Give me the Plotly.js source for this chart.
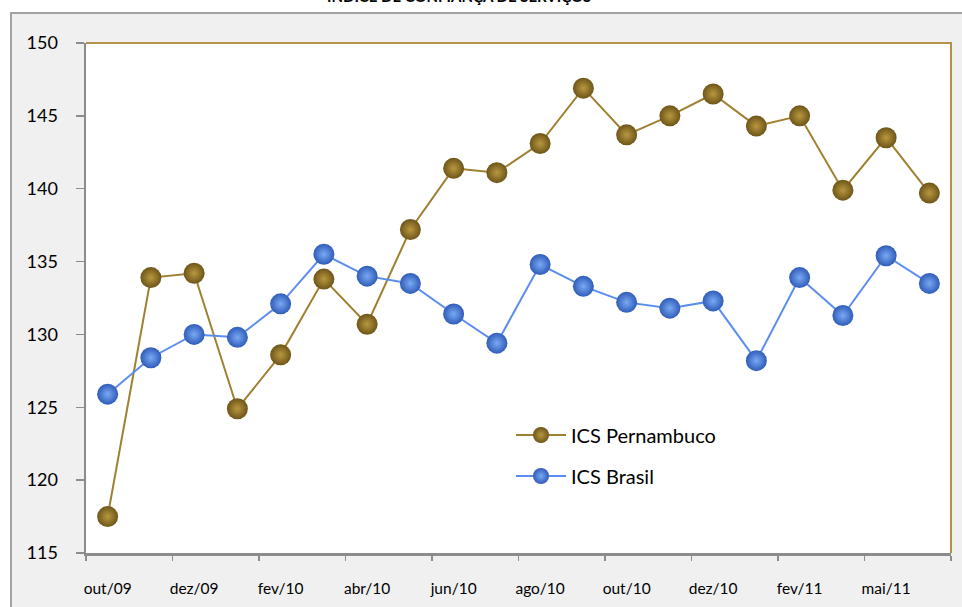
<!DOCTYPE html>
<html>
<head>
<meta charset="utf-8">
<script src="https://cdn.plot.ly/plotly-3.0.1.min.js"></script>
<style>
html,body{margin:0;padding:0;background:#fff;}
#chart{width:962px;height:607px;}
</style>
</head>
<body>
<div id="chart"></div>
<script>
// Data
var months = ["out/09","nov/09","dez/09","jan/10","fev/10","mar/10","abr/10","mai/10","jun/10","jul/10",
              "ago/10","set/10","out/10","nov/10","dez/10","jan/11","fev/11","mar/11","mai/11","jun/11"];
var icsPernambuco = [117.5,133.9,134.2,124.9,128.6,133.8,130.7,137.2,141.4,141.1,
                     143.1,146.9,143.7,145.0,146.5,144.3,145.0,139.9,143.5,139.7];
var icsBrasil = [125.9,128.4,130.0,129.8,132.1,135.5,134.0,133.5,131.4,129.4,
                 134.8,133.3,132.2,131.8,132.3,128.2,133.9,131.3,135.4,133.5];
var seriesNames = ["ICS Pernambuco","ICS Brasil"];
var chartTitle = "ÍNDICE DE CONFIANÇA DE SERVIÇOS";

// plot area geometry (pixels)
var W = 962, H = 607, L = 86, T = 43, R = 11, B = 54;
var pw = W - L - R, ph = H - T - B;
function px2x(p){ return (p - L) / pw; }
function py2y(p){ return (H - B - p) / ph; }

var FONT = "Lato, 'Open Sans', sans-serif";

var traces = [
  {
    x: months, y: icsPernambuco, name: seriesNames[0], type: "scatter", mode: "lines+markers",
    line: {color: "#9e802f", width: 2},
    marker: {size: 21, color: "#6e5519", line: {width: 0},
             gradient: {type: "radial", color: "#b8983f"}},
    legend: "legend"
  },
  {
    x: months, y: icsBrasil, name: seriesNames[1], type: "scatter", mode: "lines+markers",
    line: {color: "#5b8def", width: 2},
    marker: {size: 21, color: "#2f5cb8", line: {width: 0},
             gradient: {type: "radial", color: "#7aa9f4"}},
    legend: "legend2"
  }
];

var layout = {
  width: W, height: H,
  margin: {l: L, r: R, t: T, b: B, pad: 0},
  paper_bgcolor: "#ffffff",
  plot_bgcolor: "#ffffff",
  font: {family: FONT, color: "#000"},
  showlegend: true,
  xaxis: {
    type: "category",
    range: [-0.5, months.length - 0.5],
    dtick: 2, tick0: 0,
    tickson: "boundaries",
    tickangle: 0,
    ticks: "outside", ticklen: 5, tickwidth: 1.5, tickcolor: "#8c8c8c",
    showline: true, linecolor: "#8c8c8c", linewidth: 2.5,
    showgrid: false, zeroline: false,
    tickfont: {family: FONT, size: 15.5, color: "#000"},
    ticklabelstandoff: 20,
    fixedrange: true
  },
  yaxis: {
    range: [115, 150],
    dtick: 5, tick0: 115,
    ticks: "outside", ticklen: 8, tickwidth: 1.5, tickcolor: "#8c8c8c",
    showline: true, linecolor: "#8c8c8c", linewidth: 2.5,
    showgrid: false, zeroline: false,
    tickfont: {family: FONT, size: 18, color: "#000"},
    ticklabelstandoff: 14,
    fixedrange: true
  },
  legend: {
    x: px2x(511), y: py2y(435), xanchor: "left", yanchor: "middle",
    bgcolor: "rgba(0,0,0,0)", borderwidth: 0,
    font: {family: FONT, size: 20, color: "#000"},
    itemwidth: 50
  },
  legend2: {
    x: px2x(511), y: py2y(476), xanchor: "left", yanchor: "middle",
    bgcolor: "rgba(0,0,0,0)", borderwidth: 0,
    font: {family: FONT, size: 20, color: "#000"},
    itemwidth: 50
  },
  shapes: [
    {type: "rect", xref: "paper", yref: "paper", layer: "below",
     x0: px2x(11), x1: px2x(975), y0: py2y(620), y1: py2y(13),
     fillcolor: "#f0f0f0", line: {color: "#a3a3a3", width: 2}},
    {type: "rect", xref: "paper", yref: "paper", layer: "below",
     x0: 0, x1: 1, y0: 0, y1: 1,
     fillcolor: "#ffffff", line: {width: 0}},
    {type: "path", xref: "paper", yref: "paper", layer: "above",
     path: "M 0,1 L 1,1 L 1,0",
     line: {color: "#b39447", width: 2}}
  ],
  annotations: [
    {text: "<b>" + chartTitle + "</b>", xref: "paper", yref: "paper",
     x: px2x(459), y: py2y(7), xanchor: "center", yanchor: "bottom",
     showarrow: false, font: {family: FONT, size: 15, color: "#000"}}
  ]
};

Plotly.newPlot("chart", traces, layout, {displayModeBar: false, staticPlot: true});
</script>
</body>
</html>
